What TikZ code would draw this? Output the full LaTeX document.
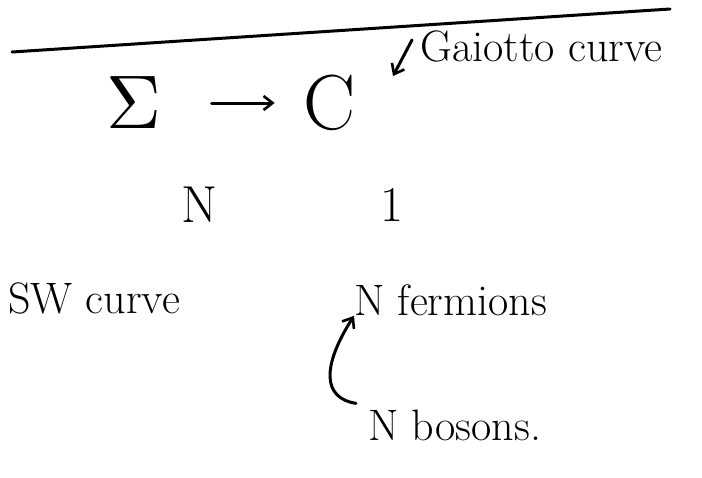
\documentclass[tikz,border=0pt]{standalone}
\usetikzlibrary{arrows.meta}
\begin{document}
\begin{tikzpicture}[x=1pt,y=-1pt,
  ink/.style={line width=3pt,line cap=round,line join=round},
  big/.style={inner sep=0pt},
  lbl/.style={font=\fontsize{44}{48}\selectfont,inner sep=0pt},
  tip/.style={-{Straight Barb[length=9pt,width=14pt,line width=2.6pt]}}]
\useasboundingbox (0,0) rectangle (702,477);
\coordinate (l1) at (12,52);
\coordinate (l2) at (670,9);
\draw[ink] (l1) -- (l2);
\node[big] (sigma) at (134,103) {\scalebox{7.6}{$\Sigma$}};
\node[big,font=\fontsize{78}{80}\selectfont] (C) at (330,103) {C};
\draw[ink,tip] (sigma.east) ++(50,0) coordinate (a1) -- ++(63,0) coordinate (a2);
\node[lbl,anchor=west] (gai) at (420,46) {Gaiotto curve};
\draw[ink,tip] (gai.west) ++(-8,-6) coordinate (g1) -- (393,76) coordinate (g2);
\node[font=\fontsize{52}{56}\selectfont,inner sep=0pt] (Nn) at (200,205) {N};
\node[font=\fontsize{50}{56}\selectfont,inner sep=0pt] (one) at (392,205) {1};
\node[lbl,anchor=west] (sw) at (8,298) {SW curve};
\node[lbl,anchor=west] (ferm) at (354,300) {N fermions};
\node[lbl,anchor=west] (bos) at (368,425) {N bosons.};
\draw[ink,tip] (bos.north west) ++(-12,-6) .. controls (322,398) and (322,366) .. (ferm.south west);
\end{tikzpicture}
\end{document}
